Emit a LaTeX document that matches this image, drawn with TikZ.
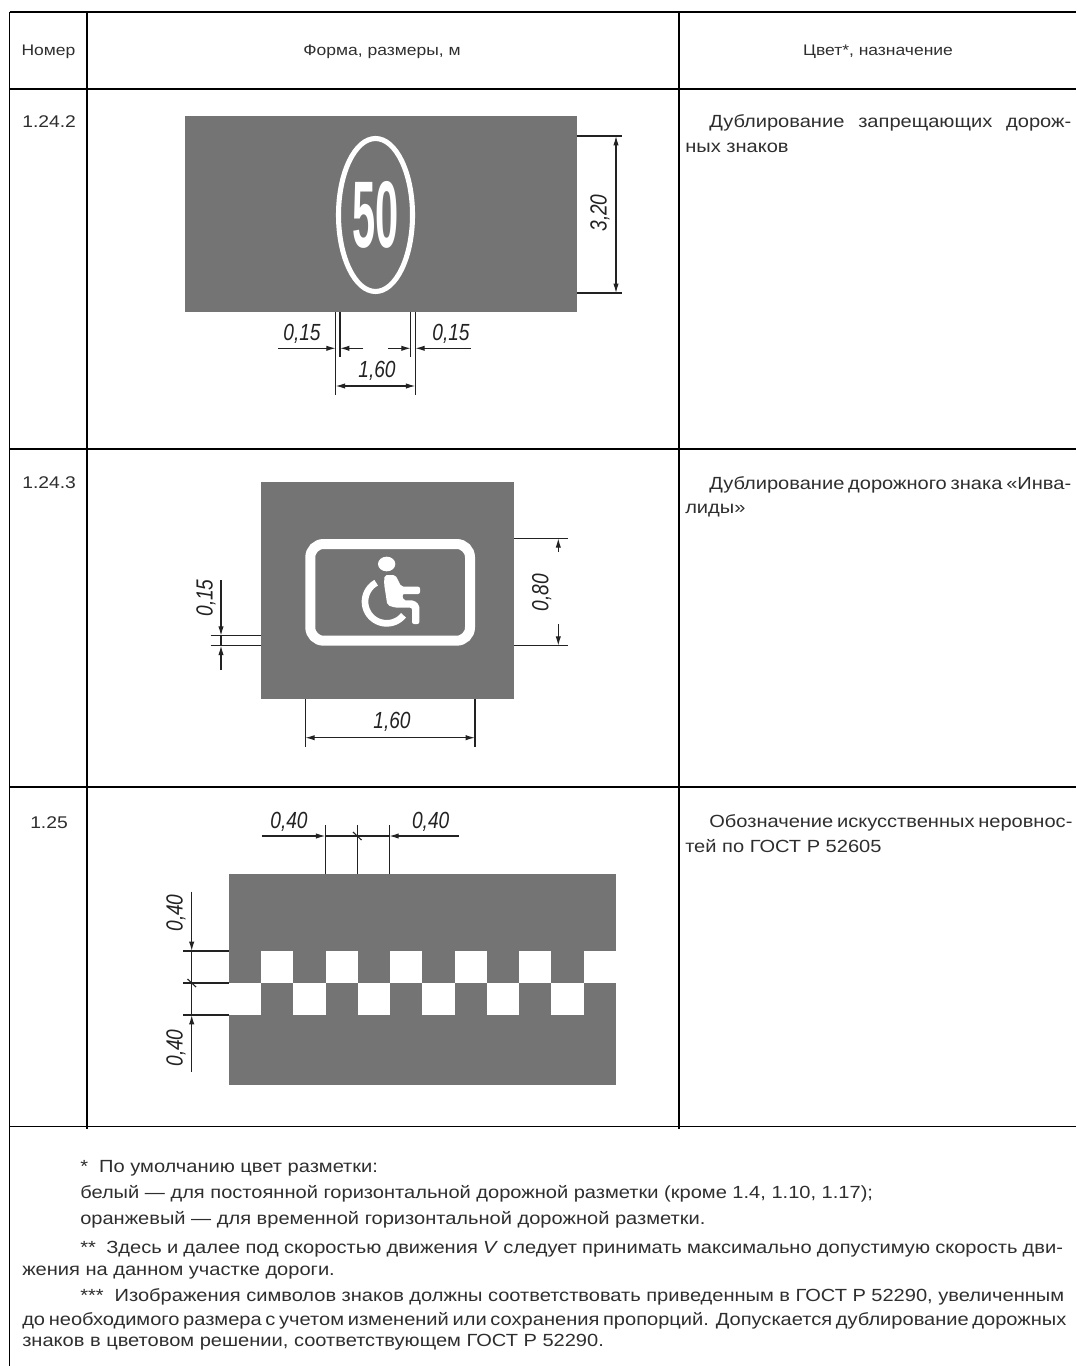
\documentclass[tikz,border=0pt]{standalone}
\usepackage{fontspec}
\setmainfont[FakeStretch=1.14]{Liberation Sans}
\newfontfamily\dimfont[FakeStretch=0.82]{Liberation Sans}
\newfontfamily\signfont[FakeStretch=0.44]{Liberation Sans}
\usetikzlibrary{arrows.meta}
\definecolor{signgray}{HTML}{747474}
\definecolor{inktext}{HTML}{2E2E2E}
\definecolor{dimink}{HTML}{222222}
\newcommand{\jline}[2]{\makebox[#1][s]{#2}}
\tikzset{
  rule/.style={black,line width=1.1pt},
  headrule/.style={black,line width=2.1pt},
  signbg/.style={fill=signgray,draw=none},
  whitemark/.style={draw=white,fill=none},
  whitefill/.style={fill=white,draw=none},
  dimline/.style={dimink,line width=.85pt},
  extline/.style={dimink,line width=.85pt},
  dimarrow/.style={dimink,line width=.85pt,-{Latex[length=7pt,width=4pt]}},
  dimboth/.style={dimink,line width=.85pt,{Latex[length=7pt,width=4pt]}-{Latex[length=7pt,width=4pt]}},
  dimlabel/.style={inner sep=0pt,text=dimink,font=\dimfont\itshape\fontsize{17.5}{18}\selectfont},
  headtext/.style={inner sep=0pt,text=inktext,font=\fontsize{11.5}{13}\selectfont},
  celltext/.style={inner sep=0pt,anchor=base west,text=inktext,font=\fontsize{13.2}{15}\selectfont},
  numtext/.style={inner sep=0pt,anchor=base west,text=inktext,font=\fontsize{12.7}{15}\selectfont},
  notetext/.style={inner sep=0pt,anchor=base west,text=inktext,font=\fontsize{13.2}{15}\selectfont},
}
\begin{document}
\begin{tikzpicture}[x=.75pt,y=-.75pt]
\useasboundingbox (0,0) rectangle (1076,1366);
% table rules
\draw[rule] (9.5,12) -- (1076,12);
\draw[headrule] (9.5,89) -- (1076,89);
\draw[rule] (9.5,449) -- (1076,449);
\draw[rule] (9.5,787) -- (1076,787);
\draw[rule] (9.5,1126.5) -- (1076,1126.5);
\draw[rule] (9.5,12) -- (9.5,1366);
\draw[rule] (87,12) -- (87,1129);
\draw[rule] (679,12) -- (679,1129);
% header
\node[headtext] (h1) at (48.5,52) {Номер};
\node[headtext] (h2) at (382,52) {Форма, размеры, м};
\node[headtext] (h3) at (878,52) {Цвет*, назначение};
% numbers
\node[numtext] (n1) at (22,128) {1.24.2};
\node[numtext] (n2) at (22,488) {1.24.3};
\node[numtext] (n3) at (30,828) {1.25};
% right column
\node[celltext] (r1a) at (709,128) {\jline{271.5pt}{Дублирование запрещающих дорож-}};
\node[celltext] (r1b) at (685,153) {ных знаков};
\node[celltext] (r2a) at (709,489) {\jline{271.5pt}{Дублирование дорожного знака «Инва-}};
\node[celltext] (r2b) at (685,513) {лиды»};
\node[celltext] (r3a) at (709,827) {\jline{271.5pt}{Обозначение искусственных неровнос-}};
\node[celltext] (r3b) at (685,852) {тей по ГОСТ Р 52605};
% sign 1.24.2
\fill[signbg] (184.7,115.7) rectangle (576.7,312);
\draw[whitemark,line width=3.8pt] (375.5,215) ellipse [x radius=37,y radius=76.5];
\node[inner sep=0pt,text=white,font=\signfont\bfseries\fontsize{71}{71}\selectfont] (fifty) at (375.5,215) {50};
\draw[extline] (576.7,136) -- (622,136);
\draw[extline] (576.7,293) -- (622,293);
\draw[dimboth] (616,136) -- (616,293);
\node[dimlabel,rotate=90] (d320) at (600,213) {3,20};
\draw[extline] (335.7,312) -- (335.7,395);
\draw[extline] (415.3,312) -- (415.3,395);
\draw[extline] (340,312) -- (340,357);
\draw[extline] (410.7,312) -- (410.7,357);
\draw[dimarrow] (278,348.3) -- (335.7,348.3);
\draw[dimarrow] (363,348.3) -- (340,348.3);
\draw[dimarrow] (388,348.3) -- (410.7,348.3);
\draw[dimarrow] (470.7,348.3) -- (415.3,348.3);
\draw[dimboth] (335.7,386) -- (415.3,386);
\node[dimlabel] (d015a) at (302,334) {0,15};
\node[dimlabel] (d015b) at (451,334) {0,15};
\node[dimlabel] (d160a) at (377,370.5) {1,60};
% sign 1.24.3
\fill[signbg] (260.7,482) rectangle (514.3,699);
\draw[whitemark,line width=7.5pt,rounded corners=10pt] (310.3,544) rectangle (470,640.7);
\begin{scope}[shift={(190,470)},x=.25pt,y=-.25pt]
  \fill[white] (590,282) ellipse [x radius=26,y radius=22];
  \fill[white,rounded corners=1.5pt] (582,340) -- (584,315) -- (616,315) -- (634,350) -- (690,350) -- (690,372) -- (637,372) -- (640,391) -- (672,391) -- (688,405) -- (688,462) -- (666,462) -- (666,413) -- (615,413) -- (592,405) -- cycle;
  \draw[white,line width=5pt] plot[domain=39:241,samples=30] ({590+65*cos(\x)},{395+65*sin(\x)});
\end{scope}
\draw[extline] (514.3,538.3) -- (568,538.3);
\draw[extline] (514.3,645.7) -- (568,645.7);
\draw[dimarrow] (558.3,552) -- (558.3,538.3);
\draw[dimarrow] (558.3,624) -- (558.3,645.7);
\node[dimlabel,rotate=90] (d080) at (541.7,592.7) {0,80};
\draw[extline] (210.7,635.7) -- (260.7,635.7);
\draw[extline] (210.7,645.7) -- (260.7,645.7);
\draw[dimarrow] (221,580) -- (221,635.7);
\draw[dimarrow] (221,670) -- (221,645.7);
\draw[dimline] (221,635.7) -- (221,645.7);
\node[dimlabel,rotate=90] (d015c) at (206,598) {0,15};
\draw[extline] (305.3,699) -- (305.3,746.7);
\draw[extline] (475,699) -- (475,746.7);
\draw[dimboth] (305.3,737.7) -- (475,737.7);
\node[dimlabel] (d160b) at (392,722) {1,60};
% sign 1.25
\fill[signbg] (228.7,873.7) rectangle (616,1085);
\foreach \k in {1,3,5,7,9,11} {
  \fill[whitefill] ({228.7+32.27*\k},951) rectangle ({228.7+32.27*(\k+1)},983);
}
\foreach \k in {0,2,4,6,8,10} {
  \fill[whitefill] ({228.7+32.27*\k},983) rectangle ({228.7+32.27*(\k+1)},1015);
}
\draw[extline] (325.3,825) -- (325.3,873.7);
\draw[extline] (357.3,825) -- (357.3,873.7);
\draw[extline] (389.3,825) -- (389.3,873.7);
\draw[dimarrow] (261.7,836) -- (325.3,836);
\draw[dimline] (325.3,836) -- (389.3,836);
\draw[dimarrow] (459,836) -- (389.3,836);
\draw[dimline] (353,832) -- (361.5,840);
\node[dimlabel] (d040a) at (289,822) {0,40};
\node[dimlabel] (d040b) at (430.7,822) {0,40};
\draw[extline] (183,951) -- (228.7,951);
\draw[extline] (183,983) -- (228.7,983);
\draw[extline] (183,1015) -- (228.7,1015);
\draw[dimarrow] (191.7,891.7) -- (191.7,951);
\draw[dimline] (191.7,951) -- (191.7,1015);
\draw[dimarrow] (191.7,1071.7) -- (191.7,1015);
\draw[dimline] (187.5,979) -- (196,987);
\node[dimlabel,rotate=90] (d040c) at (176,913) {0,40};
\node[dimlabel,rotate=90] (d040d) at (176,1048) {0,40};
% notes
\node[notetext] (f1) at (80,1172) {*\ \ По умолчанию цвет разметки:};
\node[notetext] (f2) at (80,1198) {белый — для постоянной горизонтальной дорожной разметки (кроме 1.4, 1.10, 1.17);};
\node[notetext] (f3) at (80,1224) {оранжевый — для временной горизонтальной дорожной разметки.};
\node[notetext] (f4) at (80,1253) {\jline{737pt}{**\ \ Здесь и далее под скоростью движения \textit{V} следует принимать максимально допустимую скорость дви-}};
\node[notetext] (f5) at (22,1275) {жения на данном участке дороги.};
\node[notetext] (f6) at (80,1301) {\jline{738pt}{***\ \ Изображения символов знаков должны соответствовать приведенным в ГОСТ Р 52290, увеличенным}};
\node[notetext] (f7) at (22,1325) {\jline{782pt}{до необходимого размера с учетом изменений или сохранения пропорций. Допускается дублирование дорожных}};
\node[notetext] (f8) at (22,1346) {знаков в цветовом решении, соответствующем ГОСТ Р 52290.};
\end{tikzpicture}
\end{document}
